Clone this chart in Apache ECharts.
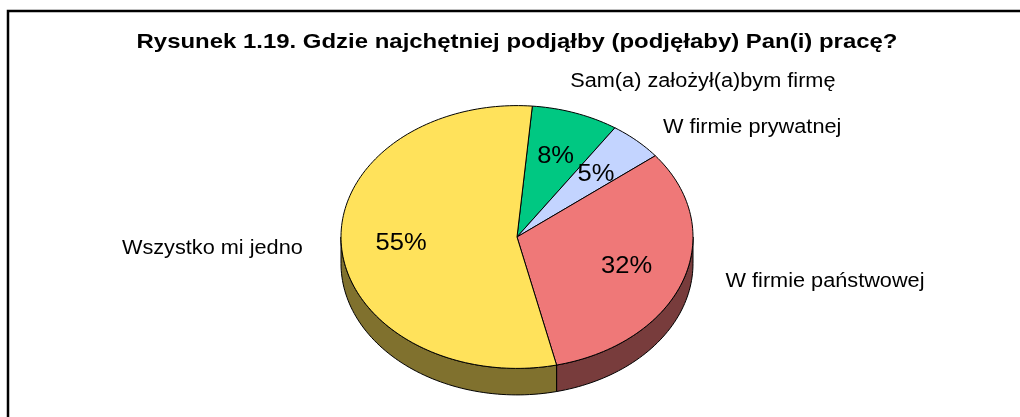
<!DOCTYPE html>
<html>
<head>
<meta charset="utf-8">
<script src="https://cdn.jsdelivr.net/npm/echarts@6/dist/echarts.min.js"></script>
<style>
  html, body { margin: 0; padding: 0; background: #fff; }
  #main { width: 1020px; height: 417px; }
</style>
</head>
<body>
<div id="main"></div>
<script>
// data (clockwise from the top)
const categories = ['Sam(a) założył(a)bym firmę', 'W firmie prywatnej', 'W firmie państwowej', 'Wszystko mi jedno'];
const values = [8, 5, 32, 55];
const colors = ['#00C882', '#C3D4FF', '#EF7878', '#FFE25B'];
const sideColors = ['#006441', '#626A80', '#783C3C', '#80712E'];

// pseudo-3D pie geometry
const startAngle = 5;            // degrees clockwise from 12 o'clock
const cx = 517, cy = 237;        // centre of the top face
const rx = 176, ry = 131.4;      // radii of the tilted ellipse
const depth = 26.5;              // thickness of the pie
const FONT = '"Liberation Sans", Arial, sans-serif';
// the source picture is slightly stretched horizontally
const STRETCH_LABEL = 1.085, STRETCH_PCT = 1.11, STRETCH_TITLE = 1.14;
// hand-placed label offsets (Excel lets labels be dragged)
const labelNudge = [[0, -4], [0, 8], [6, -9], [0, 0]];

const total = values.reduce((a, b) => a + b, 0);
const starts = [];
let acc = 0;
values.forEach(v => { starts.push(acc); acc += v; });

function pt(t, k, dy) {
  const r = t * Math.PI / 180;
  return [cx + rx * k * Math.sin(r), cy - ry * k * Math.cos(r) + (dy || 0)];
}
function arc(t0, t1, dy) {
  const pts = [];
  const n = Math.max(2, Math.ceil(Math.abs(t1 - t0) / 1.5));
  for (let i = 0; i <= n; i++) pts.push(pt(t0 + (t1 - t0) * i / n, 1, dy));
  return pts;
}

const measure = document.createElement('canvas').getContext('2d');
function textWidth(str, size) {
  measure.font = size + 'px ' + FONT;
  return measure.measureText(str).width;
}

function renderItem(params, api) {
  const i = params.dataIndex;
  const v = api.value(0);
  const t0 = startAngle + starts[i] / total * 360;
  const t1 = t0 + v / total * 360;
  const mid = (t0 + t1) / 2;
  const children = [];

  // visible side wall: front half of the ellipse (90..270 deg)
  [[90, 270], [450, 630]].forEach(([a0, a1]) => {
    const a = Math.max(t0, a0), b = Math.min(t1, a1);
    if (b > a) {
      children.push({
        type: 'polygon',
        z2: 1,
        shape: { points: arc(a, b, 0).concat(arc(b, a, depth)) },
        style: { fill: sideColors[i], stroke: '#000', lineWidth: 1 }
      });
    }
  });

  // top face
  children.push({
    type: 'polygon',
    z2: 2,
    shape: { points: [[cx, cy]].concat(arc(t0, t1, 0)) },
    style: { fill: colors[i], stroke: '#000', lineWidth: 1 }
  });

  // percentage inside the slice
  const p = pt(mid, 0.66, 0);
  children.push({
    type: 'text',
    z2: 10,
    x: p[0], y: p[1] + 1,
    scaleX: STRETCH_PCT,
    style: {
      text: Math.round(v / total * 100) + '%',
      fill: '#000',
      font: '23px ' + FONT,
      align: 'center', verticalAlign: 'middle'
    }
  });

  // category name outside the pie
  const s = Math.sin(mid * Math.PI / 180);
  const g = Math.max(-1, Math.min(1, s * 2.6));
  const name = categories[i];
  const w = textWidth(name, 20) * STRETCH_LABEL;
  const q = pt(mid, 1.22, 0);
  children.push({
    type: 'text',
    z2: 10,
    x: q[0] + w / 2 * g + labelNudge[i][0],
    y: q[1] + labelNudge[i][1],
    scaleX: STRETCH_LABEL,
    style: {
      text: name,
      fill: '#000',
      font: '20px ' + FONT,
      align: 'center', verticalAlign: 'middle'
    }
  });

  return { type: 'group', children: children };
}

const chart = echarts.init(document.getElementById('main'), null, { renderer: 'canvas' });
chart.setOption({
  animation: false,
  backgroundColor: '#fff',
  graphic: [
    {
      type: 'rect',
      shape: { x: 8, y: 11, width: 1040, height: 440 },
      style: { fill: 'none', stroke: '#000', lineWidth: 2.5 }
    },
    {
      type: 'text',
      x: 517, y: 42,
      scaleX: STRETCH_TITLE,
      style: {
        text: 'Rysunek 1.19. Gdzie najchętniej podjąłby (podjęłaby) Pan(i) pracę?',
        fill: '#000',
        font: 'bold 21px ' + FONT,
        align: 'center', verticalAlign: 'middle'
      }
    }
  ],
  series: [{
    type: 'custom',
    coordinateSystem: 'none',
    renderItem: renderItem,
    data: values.map((v, i) => ({ name: categories[i], value: [v] }))
  }]
});
</script>
</body>
</html>
